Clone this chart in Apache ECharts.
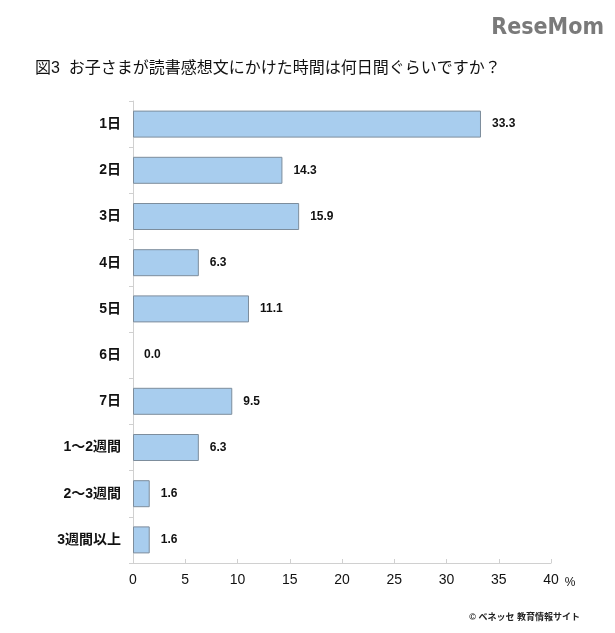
<!DOCTYPE html>
<html><head><meta charset="utf-8">
<script src="https://cdn.jsdelivr.net/npm/echarts@6/dist/echarts.min.js"></script>
<style>html,body{margin:0;padding:0;background:#fff}#c{width:615px;height:633px}</style>
</head><body><div id="c"></div>
<script>
var categories = ['1日','2日','3日','4日','5日','6日','7日','1〜2週間','2〜3週間','3週間以上'];
var values = [33.3, 14.3, 15.9, 6.3, 11.1, 0.0, 9.5, 6.3, 1.6, 1.6];
var xTicks = [0, 5, 10, 15, 20, 25, 30, 35, 40];
var titleText = '図3  お子さまが読書感想文にかけた時間は何日間ぐらいですか？';
var font = '"Liberation Sans","Noto Sans CJK JP",sans-serif';
var chart = echarts.init(document.getElementById('c'));
chart.setOption({
  animation: false,
  backgroundColor: '#fff',
  title: [
    {text: titleText, left: 30, top: 56, textStyle: {fontFamily: font, fontSize: 16, fontWeight: 'normal', color: '#111'}},
    {text: 'ReseMom', right: 6, top: 12, textStyle: {fontFamily: '"DejaVu Sans Condensed",' + font, fontSize: 23, fontWeight: 'bold', color: '#7a7a7a'}},
    {text: '© ベネッセ 教育情報サイト', right: 30, top: 608, textStyle: {fontFamily: font, fontSize: 9, fontWeight: 'bold', color: '#222'}}
  ],
  grid: {left: 133, right: 64, top: 101, bottom: 70, containLabel: false},
  xAxis: {
    type: 'value', min: xTicks[0], max: xTicks[xTicks.length-1], interval: 5,
    axisLine: {show: true, lineStyle: {color: '#d0d0d0'}},
    axisTick: {show: true, length: 4, inside: true, lineStyle: {color: '#d0d0d0'}},
    splitLine: {show: false},
    axisLabel: {color: '#111', fontFamily: font, fontSize: 14, margin: 10},
    name: '%', nameLocation: 'end', nameGap: 10,
    nameTextStyle: {color: '#111', fontFamily: font, fontSize: 12, verticalAlign: 'top', padding: [14, 0, 0, 0]}
  },
  yAxis: {
    type: 'category', data: categories, inverse: true,
    axisLine: {show: true, lineStyle: {color: '#d0d0d0'}},
    axisTick: {show: true, length: 4, lineStyle: {color: '#d0d0d0'}},
    axisLabel: {color: '#111', fontFamily: font, fontSize: 14, fontWeight: 'bold', margin: 12}
  },
  series: [{
    type: 'bar', barWidth: 27,
    data: values.map(function(v){ return v === 0 ? {value: v, itemStyle: {borderWidth: 0}} : v; }),
    itemStyle: {color: '#a8cdee', borderColor: '#7d8d9c', borderWidth: 1},
    label: {show: true, position: 'right', distance: 11, color: '#111', fontFamily: font, fontSize: 12, fontWeight: 'bold',
      formatter: function(p){ return p.value.toFixed(1); }}
  }]
});
</script></body></html>
